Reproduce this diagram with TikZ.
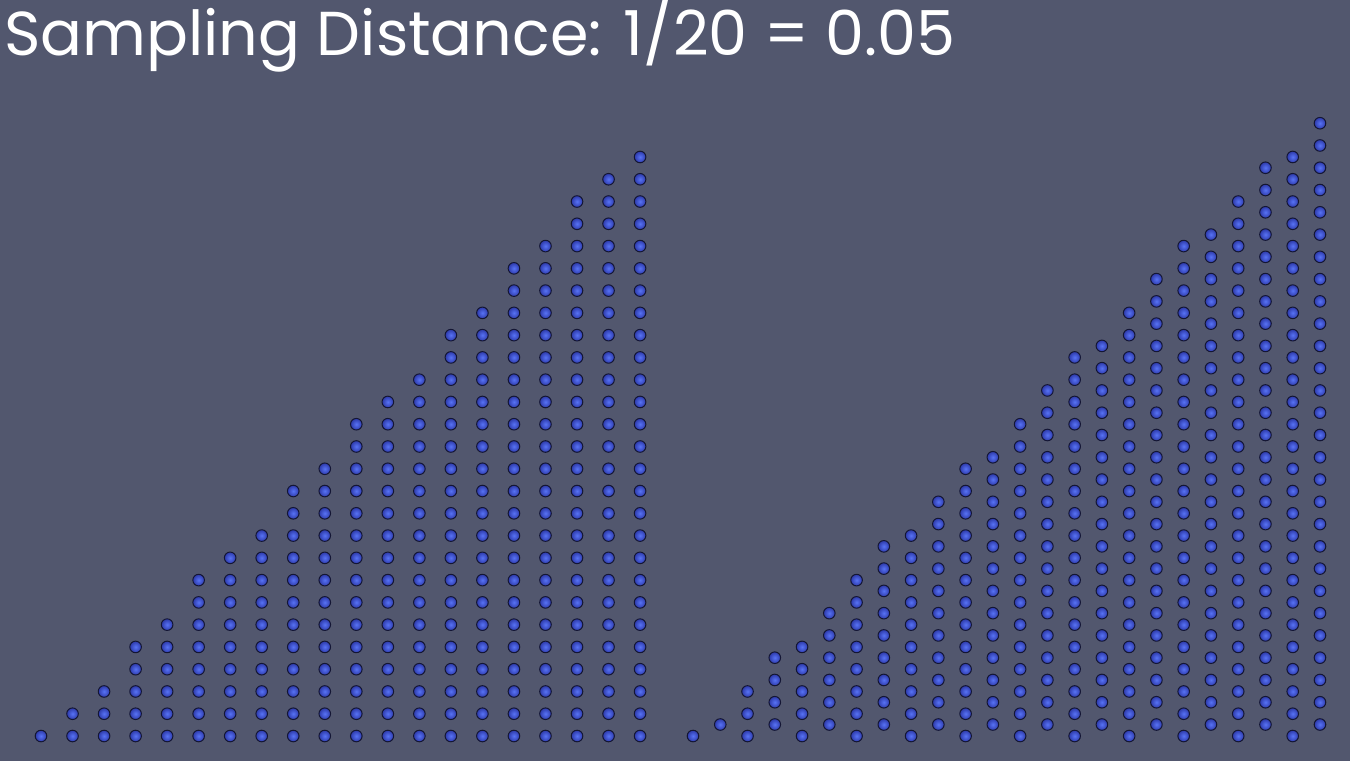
\documentclass[tikz,border=0pt]{standalone}
\usepackage{fontspec}
\newfontfamily\titlefont{Poppins}
\definecolor{bg}{RGB}{82,87,110}
\definecolor{dotrim}{RGB}{20,22,52}
\definecolor{dotin}{RGB}{88,115,245}
\definecolor{dotout}{RGB}{45,58,170}
\begin{document}
\begin{tikzpicture}[x=1pt,y=-1pt,
  dot/.style={draw=dotrim, line width=1pt, inner color=dotin, outer color=dotout},
  titletext/.style={anchor=base west, inner sep=0pt, text=white, font=\titlefont\fontsize{62}{62}\selectfont}]
\fill[bg] (0,0) rectangle (1350,761);
\useasboundingbox (0,0) rectangle (1350,761);
\node[titletext] (title) at (4,55) {Sampling Distance: 1/20 = 0.05};
% left triangle: regular grid
\foreach \h [count=\i from 0] in {1,2,3,5,6,8,9,10,12,13,15,16,17,19,20,22,23,25,26,27} {
  \foreach \j in {1,...,\h} {
    \shade[dot] ({41+\i*31.53},{736-(\j-1)*22.27}) circle (5.8);
  }
}
% right triangle: staggered grid
\foreach \h [count=\i from 0] in {1,1,3,4,5,6,8,9,10,11,13,13,15,16,18,18,20,21,23,23,25,26,27,28} {
  \pgfmathsetmacro\yo{736-mod(\i,2)*11.5}
  \foreach \j in {1,...,\h} {
    \shade[dot] ({693+\i*27.26},{\yo-(\j-1)*22.27}) circle (5.8);
  }
}
\end{tikzpicture}
\end{document}
